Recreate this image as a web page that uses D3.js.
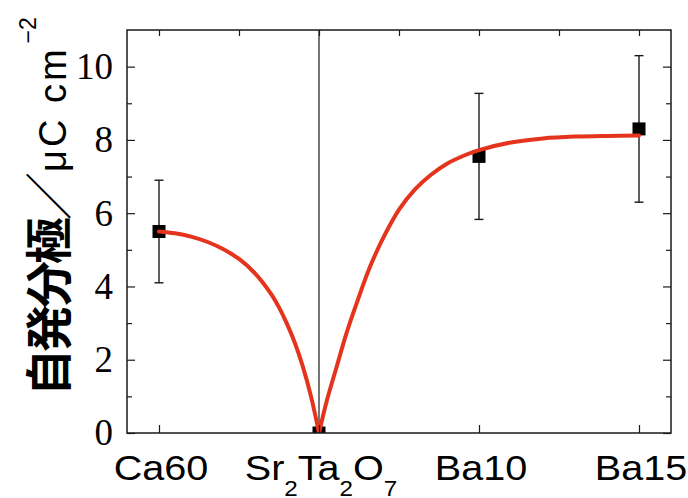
<!DOCTYPE html>
<html><head><meta charset="utf-8">
<script src="https://cdn.jsdelivr.net/npm/d3@7"></script>
<style>
html,body{margin:0;padding:0;background:#fff;}
svg{display:block;}
</style></head>
<body>
<svg id="chart" width="688" height="498"></svg>
<script>
// ---- data ----
const categories = ["Ca60", "Sr2Ta2O7", "Ba10", "Ba15"];
const categoryLabelParts = [
  [["Ca60", false]],
  [["Sr", false], ["2", true], ["Ta", false], ["2", true], ["O", false], ["7", true]],
  [["Ba10", false]],
  [["Ba15", false]]
];
const polarization = [5.5, 0, 7.55, 8.3];
const polarizationError = [1.4, 0, 1.72, 2.0];
const yMajorTicks = [0, 2, 4, 6, 8, 10];
const yMinorTicks = [1, 3, 5, 7, 9];
const topTicks = [0, 0.5, 1, 1.5, 2, 2.5, 3];
// fitted guide curve, two branches meeting at Sr2Ta2O7
const fitLeftX = [0, 0.1, 0.2, 0.3, 0.4, 0.5, 0.6, 0.7, 0.75, 0.8, 0.85, 0.9, 0.95, 1.0];
const fitLeftY = [5.5, 5.45, 5.36, 5.22, 5.02, 4.75, 4.36, 3.80, 3.43, 2.98, 2.45, 1.80, 1.0, 0];
const fitRightX = [1.0, 1.05, 1.11, 1.17, 1.24, 1.32, 1.41, 1.50, 1.60, 1.70, 1.80, 1.90, 2.00, 2.20, 2.40, 2.60, 2.80, 3.00];
const fitRightY = [0, 0.9, 1.8, 2.7, 3.6, 4.55, 5.4, 6.1, 6.65, 7.05, 7.35, 7.56, 7.72, 7.93, 8.04, 8.09, 8.11, 8.12];

// ---- layout ----
const svg = d3.select("#chart");
const L = 127, R = 671, T = 30, B = 433;
const x = d3.scaleLinear().domain([-0.2, 3.2]).range([L, R]);
const y = d3.scaleLinear().domain([0, 11]).range([B, T]);
const axisColor = "#1a1a1a";
const red = "#e5341d";
const serif = "'Liberation Serif', 'Times New Roman', Times, 'DejaVu Serif', 'Noto Serif', serif";

svg.append("defs").append("clipPath").attr("id", "plotclip")
  .append("rect").attr("x", L).attr("y", T).attr("width", R - L).attr("height", B - T);

// vertical reference line at Sr2Ta2O7
svg.append("line")
  .attr("x1", x(1)).attr("x2", x(1)).attr("y1", T).attr("y2", B)
  .attr("stroke", axisColor).attr("stroke-width", 1.2);

const plot = svg.append("g").attr("clip-path", "url(#plotclip)");

// error bars
const idx = d3.range(categories.length).filter(i => polarizationError[i] > 0);
const eb = plot.append("g").attr("stroke", axisColor).attr("stroke-width", 1.4);
idx.forEach(i => {
  const cx = x(i), y1 = y(polarization[i] + polarizationError[i]), y0 = y(polarization[i] - polarizationError[i]);
  eb.append("line").attr("x1", cx).attr("x2", cx).attr("y1", y1).attr("y2", y0);
  eb.append("line").attr("x1", cx - 4.5).attr("x2", cx + 4.5).attr("y1", y1).attr("y2", y1);
  eb.append("line").attr("x1", cx - 4.5).attr("x2", cx + 4.5).attr("y1", y0).attr("y2", y0);
});

// squares
const sq = 13;
plot.selectAll("rect.pt").data(polarization).join("rect")
  .attr("class", "pt")
  .attr("x", (d, i) => x(i) - sq / 2).attr("y", d => y(d) - sq / 2)
  .attr("width", sq).attr("height", sq).attr("fill", "#000");

// fitted curve
const line = d3.line().x(d => x(d[0])).y(d => y(d[1])).curve(d3.curveCatmullRom.alpha(0.5));
[[fitLeftX, fitLeftY], [fitRightX, fitRightY]].forEach(([xs, ys]) => {
  plot.append("path").datum(xs.map((v, k) => [v, ys[k]]))
    .attr("d", line).attr("fill", "none").attr("stroke", red)
    .attr("stroke-width", 4).attr("stroke-linecap", "round");
});

// axes
function styleAxis(g) {
  g.select(".domain").remove();
  g.selectAll(".tick line").attr("stroke", axisColor).attr("stroke-width", 1.2);
}
const yAxisG = svg.append("g").attr("transform", `translate(${L},0)`)
  .call(d3.axisLeft(y).tickValues(yMajorTicks).tickSize(-8).tickPadding(14).tickFormat(d3.format("d")));
yAxisG.attr("font-family", serif).attr("font-size", 37);
yAxisG.call(styleAxis);
yAxisG.selectAll("text").attr("fill", "#000").attr("font-family", serif).attr("font-size", 37);

svg.append("g").attr("transform", `translate(${L},0)`)
  .call(d3.axisLeft(y).tickValues(yMinorTicks).tickSize(-5).tickFormat(""))
  .call(styleAxis);
svg.append("g").attr("transform", `translate(${R},0)`)
  .call(d3.axisRight(y).tickValues(yMajorTicks).tickSize(-8).tickFormat(""))
  .call(styleAxis);
svg.append("g").attr("transform", `translate(${R},0)`)
  .call(d3.axisRight(y).tickValues(yMinorTicks).tickSize(-5).tickFormat(""))
  .call(styleAxis);
svg.append("g").attr("transform", `translate(0,${T})`)
  .call(d3.axisTop(x).tickValues(topTicks).tickSize(-6).tickFormat(""))
  .call(styleAxis);
svg.append("g").attr("transform", `translate(0,${B})`)
  .call(d3.axisBottom(x).tickValues(d3.range(categories.length)).tickSize(-8).tickFormat(""))
  .call(styleAxis);

// frame
svg.append("rect").attr("x", L).attr("y", T).attr("width", R - L).attr("height", B - T)
  .attr("fill", "none").attr("stroke", axisColor).attr("stroke-width", 1.5);

// category labels
const xl = svg.append("g").attr("font-family", "'Liberation Sans', Arial, sans-serif").attr("fill", "#000");
categoryLabelParts.forEach((parts, i) => {
  const t = xl.append("text")
    .attr("transform", `translate(${x(i) + 2},480) scale(1.1,1)`)
    .attr("text-anchor", "middle").attr("font-size", 36);
  let shifted = false;
  parts.forEach(([s, sub]) => {
    const ts = t.append("tspan").text(s);
    if (sub) { ts.attr("font-size", 22).attr("dy", shifted ? 0 : 16); shifted = true; }
    else { ts.attr("dy", shifted ? -16 : 0); shifted = false; }
  });
});

// y axis label
const yl = svg.append("text")
  .attr("transform", `translate(66,396) rotate(-90)`)
  .attr("text-anchor", "start").attr("fill", "#000");
yl.append("tspan").text("自発分極")
  .attr("font-family", "'Noto Sans CJK JP', sans-serif").attr("font-weight", "bold")
  .attr("font-size", 47).attr("letter-spacing", -3);
yl.append("tspan").text("／")
  .attr("font-family", "'Noto Sans CJK JP', sans-serif")
  .attr("font-size", 48);
yl.append("tspan").text("μC cm")
  .attr("font-family", "'Liberation Sans', Arial, sans-serif").attr("font-size", 38)
  .attr("letter-spacing", 3);
yl.append("tspan").text("−2").attr("dy", -30).attr("dx", 3)
  .attr("font-family", "'Liberation Sans', Arial, sans-serif").attr("font-size", 23);
</script>
</body></html>
